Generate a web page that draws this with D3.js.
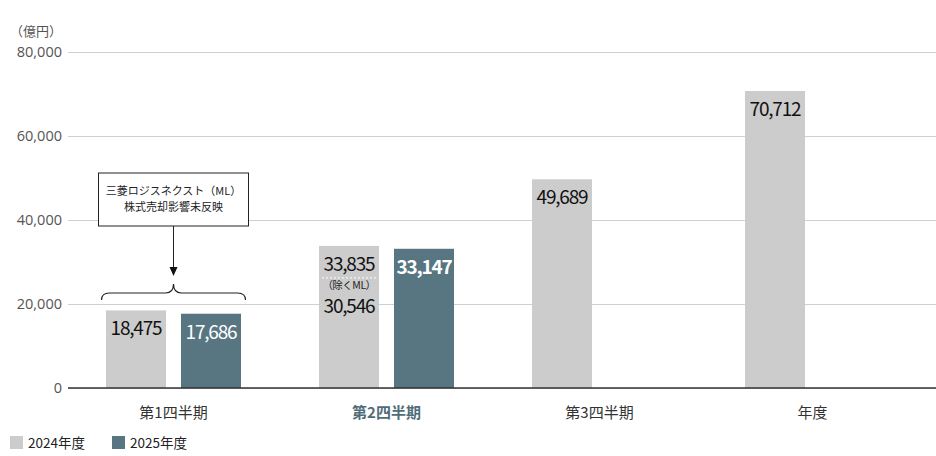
<!DOCTYPE html>
<html lang="ja">
  <head>
    <meta charset="UTF-8" />
    <title>売上高 推移</title>
    <style>
      body { margin: 0; background: #fff; }
      text { font-family: "Noto Sans CJK JP", "Noto Sans", sans-serif; }
      .yaxis text { font-family: "Open Sans", "Noto Sans", sans-serif; font-size: 14.5px; fill: #555; }
      .val { font-size: 19px; letter-spacing: -1.2px; }
    </style>
  </head>
  <body>
    <svg id="chart"></svg>
    <script src="https://cdn.jsdelivr.net/npm/d3@7"></script>
    <script>
      // categories and series
      var categories = ["第1四半期", "第2四半期", "第3四半期", "年度"];
      var series = ["2024年度", "2025年度"];
      var values2024 = [18475, 33835, 49689, 70712];
      var values2025 = [17686, 33147, null, null];
      var exML2024 = [null, 30546, null, null];
      var yTicks = [0, 20000, 40000, 60000, 80000];
      var colors = ["#cccccc", "#577682"];

      var w = 936, h = 456;
      var svg = d3.select("#chart").attr("width", w).attr("height", h);

      // scales
      var x = d3.scaleBand().domain(categories).range([67, 919]);
      var sub = d3.scaleBand().domain(series).range([-67.5, 67.5]).paddingInner(0.2);
      var y = d3.scaleLinear().domain([0, 80000]).range([388, 52]);

      // grid + y labels
      var yAxis = d3.axisLeft(y).tickValues(yTicks).tickSize(-(w - 68))
        .tickFormat(d3.format(","));
      svg.append("g").attr("class", "yaxis")
        .attr("transform", "translate(68,0)")
        .call(yAxis)
        .call(function(g) {
          g.select(".domain").remove();
          g.selectAll(".tick line").attr("stroke", "#cfcfcf");
          g.selectAll(".tick text").attr("x", -6);
        });

      svg.append("text").attr("x", 62).attr("y", 36).attr("text-anchor", "end")
        .attr("font-size", 13).attr("fill", "#555").text("（億円）");

      // bars
      var rows = [];
      categories.forEach(function(c, i) {
        [values2024[i], values2025[i]].forEach(function(v, j) {
          if (v != null) rows.push({ cat: c, s: series[j], j: j, v: v, i: i });
        });
      });

      svg.selectAll("rect.bar").data(rows).enter().append("rect")
        .attr("class", "bar")
        .attr("x", function(d) { return x(d.cat) + x.bandwidth() / 2 + sub(d.s); })
        .attr("y", function(d) { return y(d.v); })
        .attr("width", sub.bandwidth())
        .attr("height", function(d) { return y(0) - y(d.v); })
        .attr("fill", function(d) { return colors[d.j]; });

      // zero line
      svg.append("line").attr("x1", 68).attr("x2", w).attr("y1", y(0)).attr("y2", y(0))
        .attr("stroke", "#333").attr("stroke-width", 1.5);

      // value labels
      svg.selectAll("text.val").data(rows).enter().append("text")
        .attr("class", "val")
        .attr("x", function(d) { return x(d.cat) + x.bandwidth() / 2 + sub(d.s) + sub.bandwidth() / 2; })
        .attr("y", function(d) { return y(d.v) + 25; })
        .attr("text-anchor", "middle")
        .attr("fill", function(d) { return d.j === 1 ? "#fff" : "#111"; })
        .attr("font-weight", function(d) { return d.j === 1 && d.i === 1 ? "bold" : "normal"; })
        .text(function(d) { return d3.format(",")(d.v); });

      // excluding ML note on Q2 2024
      exML2024.forEach(function(v, i) {
        if (v == null) return;
        var cx = x(categories[i]) + x.bandwidth() / 2 + sub(series[0]) + sub.bandwidth() / 2;
        var top = y(values2024[i]);
        svg.append("line").attr("x1", cx - 27).attr("x2", cx + 27)
          .attr("y1", top + 32).attr("y2", top + 32)
          .attr("stroke", "#fff").attr("stroke-dasharray", "2,2");
        svg.append("text").attr("x", cx).attr("y", top + 43.5).attr("text-anchor", "middle")
          .attr("font-size", 10.5).attr("fill", "#222").attr("letter-spacing", -0.5).text("（除くML）");
        svg.append("text").attr("class", "val").attr("x", cx).attr("y", top + 67)
          .attr("text-anchor", "middle").attr("fill", "#111").text(d3.format(",")(v));
      });

      // category labels
      svg.selectAll("text.cat").data(categories).enter().append("text")
        .attr("class", "cat")
        .attr("x", function(d) { return x(d) + x.bandwidth() / 2; })
        .attr("y", 418)
        .attr("text-anchor", "middle")
        .attr("font-size", 15)
        .attr("font-weight", function(d, i) { return i === 1 ? "bold" : "normal"; })
        .attr("fill", function(d, i) { return i === 1 ? "#4f6d79" : "#333"; })
        .text(function(d) { return d; });

      // annotation for Q1
      var q1 = x(categories[0]) + x.bandwidth() / 2;
      svg.append("rect").attr("x", q1 - 75).attr("y", 173).attr("width", 150).attr("height", 53)
        .attr("fill", "#fff").attr("stroke", "#222");
      svg.append("text").attr("x", q1).attr("y", 195).attr("text-anchor", "middle")
        .attr("font-size", 11).attr("fill", "#222").text("三菱ロジスネクスト（ML）");
      svg.append("text").attr("x", q1).attr("y", 211).attr("text-anchor", "middle")
        .attr("font-size", 11).attr("fill", "#222").text("株式売却影響未反映");
      svg.append("line").attr("x1", q1).attr("x2", q1).attr("y1", 226).attr("y2", 268)
        .attr("stroke", "#222");
      svg.append("path").attr("d", "M" + (q1 - 4) + ",267 L" + (q1 + 4) + ",267 L" + q1 + ",276 Z")
        .attr("fill", "#111");
      var bl = q1 - 72, br = q1 + 72;
      svg.append("path")
        .attr("d", "M" + bl + ",300 Q" + bl + ",293 " + (bl + 8) + ",293 L" + (q1 - 8) + ",293 Q" + q1 + ",293 " + q1 + ",284" +
          " Q" + q1 + ",293 " + (q1 + 8) + ",293 L" + (br - 8) + ",293 Q" + br + ",293 " + br + ",300")
        .attr("fill", "none").attr("stroke", "#222").attr("stroke-width", 1.2);

      // legend
      var lg = svg.append("g").selectAll("g").data(series).enter().append("g")
        .attr("transform", function(d, i) { return "translate(" + (10 + i * 102) + ",436)"; });
      lg.append("rect").attr("width", 13).attr("height", 13)
        .attr("fill", function(d, i) { return colors[i]; });
      lg.append("text").attr("x", 18).attr("y", 12).attr("font-size", 13.5).attr("fill", "#222")
        .text(function(d) { return d; });
    </script>
  </body>
</html>
